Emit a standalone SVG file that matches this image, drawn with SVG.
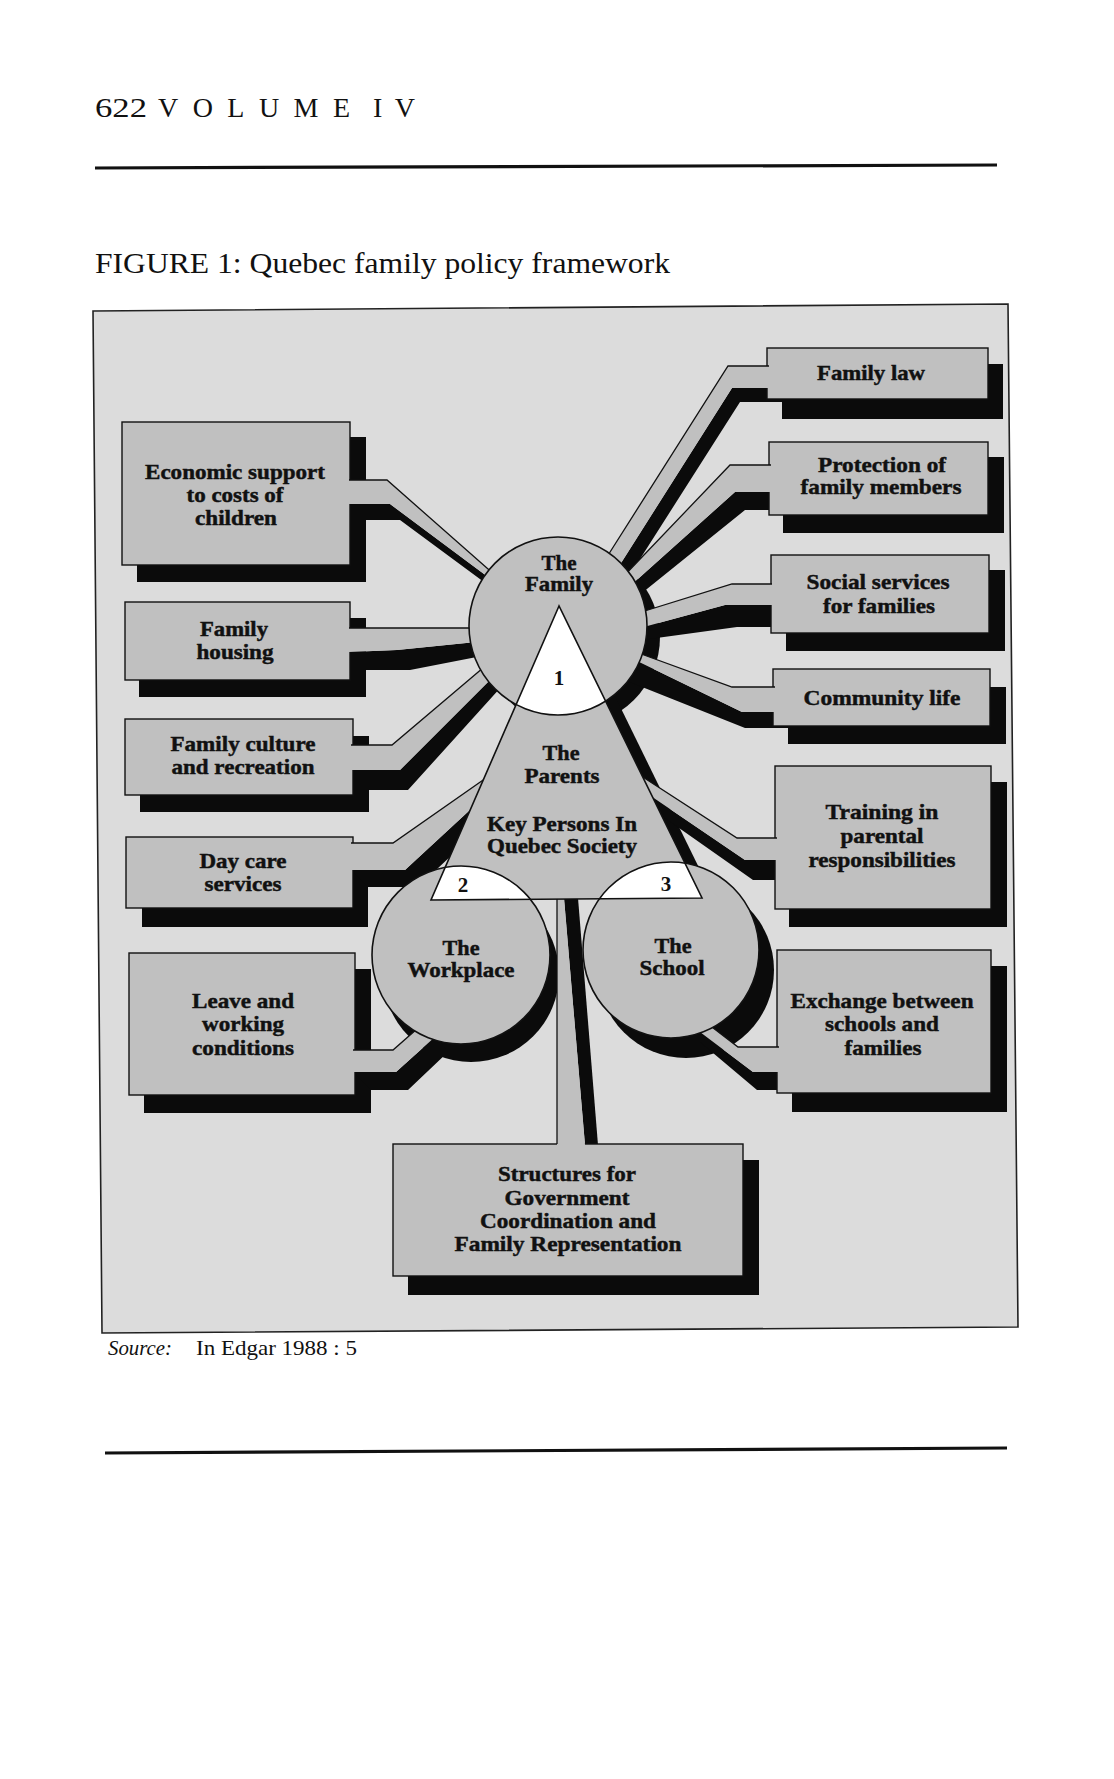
<svg xmlns="http://www.w3.org/2000/svg" width="1114" height="1779" viewBox="0 0 1114 1779">
<defs>
<style>
.frame{fill:#dcdcdc;stroke:#222;stroke-width:1.6}
.box{fill:#c0c0c0;stroke:#111;stroke-width:1.4}
.sh{fill:#0b0b0b}
.cg{fill:#c0c0c0}
.cl{fill:none;stroke:#111;stroke-width:1.3}
.circ{fill:#c0c0c0;stroke:#111;stroke-width:1.6}
.wh{fill:#ffffff;stroke:#111;stroke-width:1.6}
.tri{fill:#c0c0c0;stroke:none}
.triline{fill:none;stroke:#111;stroke-width:1.6}
.lbl{font-family:"Liberation Serif","Times New Roman",serif;font-weight:bold;font-size:21px;text-anchor:middle;fill:#111;stroke:#111;stroke-width:0.45}
.num{font-family:"Liberation Serif","Times New Roman",serif;font-weight:bold;font-size:21px;text-anchor:middle;fill:#111}
.hd{font-family:"Liberation Serif","Times New Roman",serif;fill:#111}
.rule{stroke:#111;stroke-width:3.2;fill:none}
</style>
<clipPath id="triClip"><polygon points="559,606 431,900 702,898"/></clipPath>
</defs>
<rect x="0" y="0" width="1114" height="1779" fill="#ffffff"/>

<g id="page-header">
<text class="hd" x="95" y="117" font-size="28" textLength="52" lengthAdjust="spacingAndGlyphs">622</text>
<text class="hd" x="158" y="117" font-size="28" textLength="192" lengthAdjust="spacing">VOLUME</text>
<text class="hd" x="373" y="117" font-size="28" textLength="42" lengthAdjust="spacing">IV</text>
<line class="rule" x1="95" y1="168" x2="997" y2="165"/>
<text class="hd" x="95" y="273" font-size="30" textLength="575" lengthAdjust="spacingAndGlyphs">FIGURE 1: Quebec family policy framework</text>
</g>

<polygon id="frame" class="frame" points="93,311 1008,304 1018,1327 102,1333"/>

<g id="box-shadows">
<rect class="sh" x="137" y="437" width="229" height="145"/>
<rect class="sh" x="139" y="618" width="227" height="79"/>
<rect class="sh" x="140" y="736" width="229" height="76"/>
<rect class="sh" x="142" y="855" width="226" height="72"/>
<rect class="sh" x="144" y="969" width="227" height="144"/>
<rect class="sh" x="782" y="364" width="221" height="55"/>
<rect class="sh" x="783" y="457" width="221" height="76"/>
<rect class="sh" x="786" y="570" width="219" height="81"/>
<rect class="sh" x="788" y="687" width="218" height="57"/>
<rect class="sh" x="789" y="782" width="218" height="145"/>
<rect class="sh" x="792" y="966" width="215" height="146"/>
<rect class="sh" x="408" y="1160" width="351" height="135"/>
</g>

<g id="hub-shadows">
<circle class="sh" cx="571" cy="637" r="89"/>
<circle class="sh" cx="471" cy="974" r="88"/>
<circle class="sh" cx="686" cy="970" r="88"/>
<polygon class="sh" points="600,690 612,690 705,880 693,880"/>
</g>

<g id="connectors">
<g id="connector-shadows">
<polygon class="sh" points="349,504 390,504 492,580 488,585 400,520 366,520"/>
<polygon class="sh" points="349,652 397,650 486,641 487,655 410,670 366,670"/>
<polygon class="sh" points="351,770 400,770 494,676 502,686 408,790 369,790"/>
<polygon class="sh" points="351,870 405,870 484,797 472,836 418,887 368,887"/>
<polygon class="sh" points="353,1072 396,1072 436,1036 448,1052 408,1090 371,1090"/>
<polygon class="sh" points="769,388 732,388 616,571 626,581 740,402 782,402 782,388"/>
<polygon class="sh" points="771,492 735,492 629,587 637,597 745,510 784,510 784,492"/>
<polygon class="sh" points="772,605 725,605 640,628 642,640 737,627 786,627 786,605"/>
<polygon class="sh" points="775,712 742,712 635,660 622,679 745,728 788,728 788,712"/>
<polygon class="sh" points="777,860 745,860 642,790 652,809 753,880 789,880 789,860"/>
<polygon class="sh" points="779,1072 753,1072 700,1032 700,1042 757,1090 792,1090 792,1072"/>
<polygon class="sh" points="564,898 578,898 598,1145 585,1145"/>
</g>
</g>

<g id="boxes">
<rect id="box-economic" class="box" x="122" y="422" width="228" height="143"/>
<rect id="box-housing" class="box" x="125" y="602" width="225" height="78"/>
<rect id="box-culture" class="box" x="125" y="719" width="228" height="76"/>
<rect id="box-daycare" class="box" x="126" y="837" width="227" height="71"/>
<rect id="box-leave" class="box" x="129" y="953" width="226" height="142"/>
<rect id="box-familylaw" class="box" x="767" y="348" width="221" height="51"/>
<rect id="box-protection" class="box" x="769" y="442" width="219" height="73"/>
<rect id="box-social" class="box" x="771" y="555" width="218" height="78"/>
<rect id="box-community" class="box" x="773" y="669" width="217" height="57"/>
<rect id="box-training" class="box" x="775" y="766" width="216" height="143"/>
<rect id="box-exchange" class="box" x="777" y="950" width="214" height="143"/>
<rect id="box-structures" class="box" x="393" y="1144" width="350" height="132"/>
</g>

<g id="connector-bands">
<polygon class="cg" points="349,480 387,480 496,576 492,580 390,504 349,504"/>
<polyline class="cl" points="349,480 387,480 496,576"/>
<polygon class="cg" points="349,628 486,628 486,641 397,650 349,652"/>
<polyline class="cl" points="349,628 486,628"/>
<polygon class="cg" points="351,745 392,745 490,662 494,676 400,770 351,770"/>
<polyline class="cl" points="351,745 392,745 490,662"/>
<polygon class="cg" points="351,843 393,843 496,771 484,797 405,870 351,870"/>
<polyline class="cl" points="351,843 393,843 496,771"/>
<polygon class="cg" points="353,1050 393,1050 426,1021 436,1036 396,1072 353,1072"/>
<polyline class="cl" points="353,1050 393,1050 426,1021"/>
<polygon class="cg" points="769,366 728,366 605,560 616,571 732,388 769,388"/>
<polyline class="cl" points="769,366 728,366 605,560"/>
<polygon class="cg" points="771,465 730,465 621,579 629,587 735,492 771,492"/>
<polyline class="cl" points="771,465 730,465 621,579"/>
<polygon class="cg" points="772,584 732,584 635,614 640,628 725,605 772,605"/>
<polyline class="cl" points="772,584 732,584 635,614"/>
<polygon class="cg" points="775,687 732,687 633,651 635,660 742,712 775,712"/>
<polyline class="cl" points="775,687 732,687 633,651"/>
<polygon class="cg" points="777,838 737,838 632,770 642,790 745,860 777,860"/>
<polyline class="cl" points="777,838 737,838 632,770"/>
<polygon class="cg" points="779,1047 738,1047 708,1024 700,1032 753,1072 779,1072"/>
<polyline class="cl" points="779,1047 738,1047 708,1024"/>
<polygon class="cg" points="557,898 564,898 585,1145 557,1145"/>
<line class="cl" x1="557" y1="899" x2="557" y2="1144"/>
</g>

<g id="hubs">
<circle id="hub-family" class="circ" cx="558" cy="626" r="89"/>
<circle id="hub-workplace" class="circ" cx="461" cy="955" r="89"/>
<circle id="hub-school" class="circ" cx="671" cy="950" r="88"/>
<polygon id="hub-parents" class="tri" points="559,606 431,900 702,898"/>
<g clip-path="url(#triClip)">
<circle class="wh" cx="558" cy="626" r="89"/>
<circle class="wh" cx="461" cy="955" r="89"/>
<circle class="wh" cx="671" cy="950" r="88"/>
</g>
<polygon class="triline" points="559,606 431,900 702,898"/>
</g>

<g id="labels">
<text class="lbl" x="559" y="570" textLength="35" lengthAdjust="spacingAndGlyphs">The</text>
<text class="lbl" x="559" y="591" textLength="68" lengthAdjust="spacingAndGlyphs">Family</text>
<text class="num" x="559" y="685">1</text>
<text class="lbl" x="561" y="760" textLength="37" lengthAdjust="spacingAndGlyphs">The</text>
<text class="lbl" x="562" y="783" textLength="75" lengthAdjust="spacingAndGlyphs">Parents</text>
<text class="lbl" x="562" y="831" textLength="150" lengthAdjust="spacingAndGlyphs">Key Persons In</text>
<text class="lbl" x="562" y="853" textLength="150" lengthAdjust="spacingAndGlyphs">Quebec Society</text>
<text class="num" x="463" y="892">2</text>
<text class="num" x="666" y="891">3</text>
<text class="lbl" x="461" y="955" textLength="37" lengthAdjust="spacingAndGlyphs">The</text>
<text class="lbl" x="461" y="977" textLength="107" lengthAdjust="spacingAndGlyphs">Workplace</text>
<text class="lbl" x="673" y="953" textLength="37" lengthAdjust="spacingAndGlyphs">The</text>
<text class="lbl" x="672" y="975" textLength="65" lengthAdjust="spacingAndGlyphs">School</text>

<text class="lbl" x="235" y="479" textLength="180" lengthAdjust="spacingAndGlyphs">Economic support</text>
<text class="lbl" x="235" y="502" textLength="97" lengthAdjust="spacingAndGlyphs">to costs of</text>
<text class="lbl" x="236" y="525" textLength="82" lengthAdjust="spacingAndGlyphs">children</text>
<text class="lbl" x="234" y="636" textLength="68" lengthAdjust="spacingAndGlyphs">Family</text>
<text class="lbl" x="235" y="659" textLength="77" lengthAdjust="spacingAndGlyphs">housing</text>
<text class="lbl" x="243" y="751" textLength="145" lengthAdjust="spacingAndGlyphs">Family culture</text>
<text class="lbl" x="243" y="774" textLength="143" lengthAdjust="spacingAndGlyphs">and recreation</text>
<text class="lbl" x="243" y="868" textLength="87" lengthAdjust="spacingAndGlyphs">Day care</text>
<text class="lbl" x="243" y="891" textLength="77" lengthAdjust="spacingAndGlyphs">services</text>
<text class="lbl" x="243" y="1008" textLength="102" lengthAdjust="spacingAndGlyphs">Leave and</text>
<text class="lbl" x="243" y="1031" textLength="82" lengthAdjust="spacingAndGlyphs">working</text>
<text class="lbl" x="243" y="1055" textLength="102" lengthAdjust="spacingAndGlyphs">conditions</text>

<text class="lbl" x="871" y="380" textLength="108" lengthAdjust="spacingAndGlyphs">Family law</text>
<text class="lbl" x="882" y="472" textLength="128" lengthAdjust="spacingAndGlyphs">Protection of</text>
<text class="lbl" x="881" y="494" textLength="161" lengthAdjust="spacingAndGlyphs">family members</text>
<text class="lbl" x="878" y="589" textLength="143" lengthAdjust="spacingAndGlyphs">Social services</text>
<text class="lbl" x="879" y="613" textLength="112" lengthAdjust="spacingAndGlyphs">for families</text>
<text class="lbl" x="882" y="705" textLength="157" lengthAdjust="spacingAndGlyphs">Community life</text>
<text class="lbl" x="882" y="819" textLength="113" lengthAdjust="spacingAndGlyphs">Training in</text>
<text class="lbl" x="882" y="843" textLength="83" lengthAdjust="spacingAndGlyphs">parental</text>
<text class="lbl" x="882" y="867" textLength="147" lengthAdjust="spacingAndGlyphs">responsibilities</text>
<text class="lbl" x="882" y="1008" textLength="183" lengthAdjust="spacingAndGlyphs">Exchange between</text>
<text class="lbl" x="882" y="1031" textLength="114" lengthAdjust="spacingAndGlyphs">schools and</text>
<text class="lbl" x="883" y="1055" textLength="77" lengthAdjust="spacingAndGlyphs">families</text>

<text class="lbl" x="567" y="1181" textLength="138" lengthAdjust="spacingAndGlyphs">Structures for</text>
<text class="lbl" x="567" y="1205" textLength="125" lengthAdjust="spacingAndGlyphs">Government</text>
<text class="lbl" x="568" y="1228" textLength="176" lengthAdjust="spacingAndGlyphs">Coordination and</text>
<text class="lbl" x="568" y="1251" textLength="227" lengthAdjust="spacingAndGlyphs">Family Representation</text>
</g>

<g id="page-footer">
<text class="hd" x="108" y="1355" font-size="22" font-style="italic" textLength="64" lengthAdjust="spacingAndGlyphs">Source:</text>
<text class="hd" x="196" y="1355" font-size="21" textLength="161" lengthAdjust="spacingAndGlyphs">In Edgar 1988 : 5</text>
<line class="rule" x1="105" y1="1453" x2="1007" y2="1448"/>
</g>
</svg>
